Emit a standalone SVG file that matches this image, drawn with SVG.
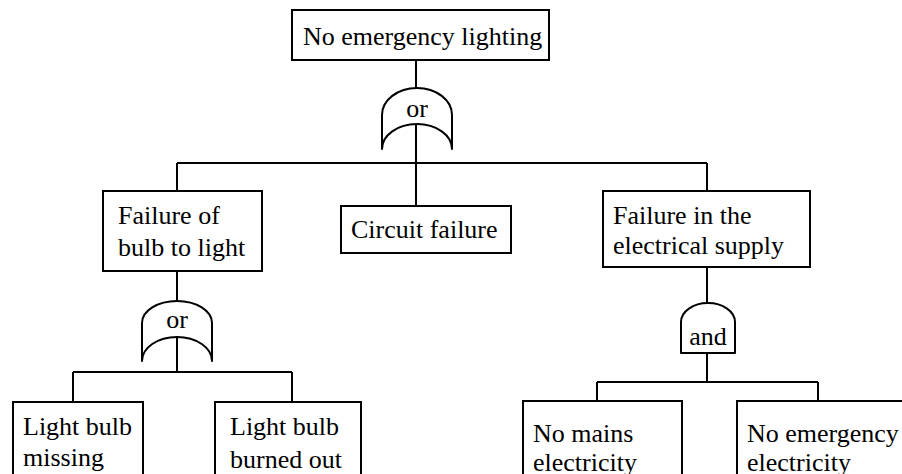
<svg xmlns="http://www.w3.org/2000/svg" width="902" height="474" viewBox="0 0 902 474">
<style>
.box{fill:#fff;stroke:#000;stroke-width:2}
.ln{fill:none;stroke:#000;stroke-width:2}
.gate{fill:none;stroke:#000;stroke-width:2;stroke-linejoin:round}
text{font-family:"Liberation Serif","Times New Roman",serif;font-size:26px;fill:#000}
.c{text-anchor:middle}
</style>
<rect width="902" height="474" fill="#fff"/>
<g id="connectors">
<path class="ln" d="M416,60V88 M416,124V206 M177,163H707 M177,163V191 M707,163V191"/>
<path class="ln" d="M177,271V301 M177,337V372 M73,372H292 M73,372V402 M292,372V402"/>
<path class="ln" d="M707,267V303 M707,353V382 M597,382H818 M597,382V401 M818,382V401"/>
</g>
<g id="node-top"><rect class="box" x="292" y="10" width="257" height="50"/><text x="303" y="45">No emergency lighting</text></g>
<g id="gate-or-top"><path class="gate" d="M382,149V115A35,27 0 0 1 452,115V149A35,25 0 0 0 382,149Z"/><text class="c" x="417" y="117">or</text></g>
<g id="node-bulb"><rect class="box" x="103" y="191" width="159" height="80"/><text x="118" y="224">Failure of</text><text x="118" y="256">bulb to light</text></g>
<g id="node-circuit"><rect class="box" x="341" y="206" width="170" height="47"/><text x="351" y="238">Circuit failure</text></g>
<g id="node-supply"><rect class="box" x="603" y="191" width="207" height="76"/><text x="613" y="224">Failure in the</text><text x="613" y="254">electrical supply</text></g>
<g id="gate-or-left"><path class="gate" d="M142,361V323A35,22 0 0 1 212,323V361A35,24 0 0 0 142,361Z"/><text class="c" x="177" y="328">or</text></g>
<g id="gate-and"><path class="gate" d="M681,353V322A27,19 0 0 1 735,322V353Z"/><text class="c" x="708" y="345">and</text></g>
<g id="node-missing"><rect class="box" x="13" y="402" width="130" height="90"/><text x="23" y="435">Light bulb</text><text x="23" y="466">missing</text></g>
<g id="node-burned"><rect class="box" x="215" y="402" width="146" height="90"/><text x="230" y="435">Light bulb</text><text x="230" y="468">burned out</text></g>
<g id="node-mains"><rect class="box" x="523" y="401" width="159" height="90"/><text x="533" y="442">No mains</text><text x="533" y="471">electricity</text></g>
<g id="node-emergency"><rect class="box" x="737" y="401" width="180" height="90"/><text x="747" y="442">No emergency</text><text x="747" y="471">electricity</text></g>
</svg>
